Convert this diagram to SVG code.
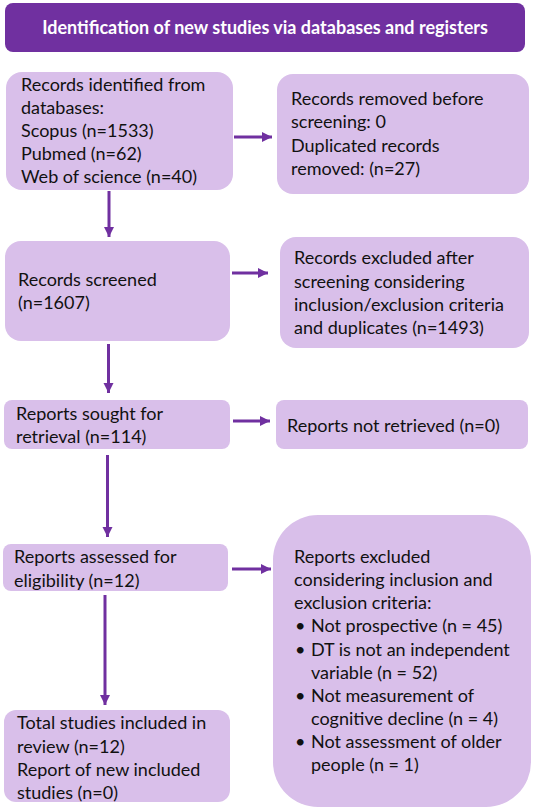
<svg xmlns="http://www.w3.org/2000/svg" width="536" height="810" viewBox="0 0 536 810">
<defs>
<style>
.box{fill:#D9BFEA;}
.hdr{fill:#7030A0;}
.t{font-family:Lato,"Liberation Sans",sans-serif;font-size:18px;fill:#111;}
.h{font-family:Lato,"Liberation Sans",sans-serif;font-size:18px;font-weight:bold;fill:#fff;}
.c{stroke:#7030A0;stroke-width:3;fill:none;marker-end:url(#ah);}
</style>
<marker id="ah" markerUnits="userSpaceOnUse" markerWidth="12" markerHeight="12" refX="10" refY="5" orient="auto">
<path d="M0,0 L10,5 L0,10 Z" fill="#7030A0"/>
</marker>
</defs>
<rect width="536" height="810" fill="#fff"/>
<g id="header">
<rect class="hdr" x="5" y="3" width="520" height="49" rx="8"/>
<text class="h" x="265" y="34" text-anchor="middle">Identification of new studies via databases and registers</text>
</g>
<g id="identified">
<rect class="box" x="6" y="72" width="227" height="118" rx="16"/>
<text class="t" x="21" y="91">Records identified from</text>
<text class="t" x="21" y="114">databases:</text>
<text class="t" x="21" y="137">Scopus (n=1533)</text>
<text class="t" x="21" y="160">Pubmed (n=62)</text>
<text class="t" x="21" y="183">Web of science (n=40)</text>
</g>
<g id="removed">
<rect class="box" x="277" y="74" width="252" height="120" rx="16"/>
<text class="t" x="291" y="105">Records removed before</text>
<text class="t" x="291" y="128">screening: 0</text>
<text class="t" x="291" y="152">Duplicated records</text>
<text class="t" x="291" y="175">removed: (n=27)</text>
</g>
<g id="screened">
<rect class="box" x="5" y="241" width="225" height="100" rx="16"/>
<text class="t" x="18" y="286">Records screened</text>
<text class="t" x="18" y="309">(n=1607)</text>
</g>
<g id="excluded1">
<rect class="box" x="280" y="237" width="249" height="111" rx="16"/>
<text class="t" x="294" y="264">Records excluded after</text>
<text class="t" x="294" y="288">screening considering</text>
<text class="t" x="294" y="311">inclusion/exclusion criteria</text>
<text class="t" x="294" y="334">and duplicates (n=1493)</text>
</g>
<g id="sought">
<rect class="box" x="4" y="400" width="226" height="49" rx="8"/>
<text class="t" x="16" y="420">Reports sought for</text>
<text class="t" x="16" y="443">retrieval (n=114)</text>
</g>
<g id="notretrieved">
<rect class="box" x="276" y="400" width="252" height="49" rx="8"/>
<text class="t" x="287" y="432">Reports not retrieved (n=0)</text>
</g>
<g id="assessed">
<rect class="box" x="3" y="544" width="225" height="47" rx="8"/>
<text class="t" x="14" y="563">Reports assessed for</text>
<text class="t" x="14" y="587">eligibility (n=12)</text>
</g>
<g id="excluded2">
<rect class="box" x="273" y="515" width="258" height="292" rx="45"/>
<text class="t" x="294" y="563">Reports excluded</text>
<text class="t" x="294" y="586">considering inclusion and</text>
<text class="t" x="294" y="609">exclusion criteria:</text>
<text class="t" x="295" y="632">•</text>
<text class="t" x="311" y="632">Not prospective (n = 45)</text>
<text class="t" x="295" y="656">•</text>
<text class="t" x="311" y="656">DT is not an independent</text>
<text class="t" x="311" y="679">variable (n = 52)</text>
<text class="t" x="295" y="702">•</text>
<text class="t" x="311" y="702">Not measurement of</text>
<text class="t" x="311" y="725">cognitive decline (n = 4)</text>
<text class="t" x="295" y="748">•</text>
<text class="t" x="311" y="748">Not assessment of older</text>
<text class="t" x="311" y="771">people (n = 1)</text>
</g>
<g id="included">
<rect class="box" x="4" y="710" width="226" height="92" rx="12"/>
<text class="t" x="17" y="729">Total studies included in</text>
<text class="t" x="17" y="753">review (n=12)</text>
<text class="t" x="17" y="776">Report of new included</text>
<text class="t" x="17" y="799">studies (n=0)</text>
</g>
<g id="connectors">
<line class="c" x1="234" y1="137" x2="272" y2="137"/>
<line class="c" x1="109" y1="191" x2="109" y2="237"/>
<line class="c" x1="232" y1="273" x2="268" y2="273"/>
<line class="c" x1="108.5" y1="344" x2="108.5" y2="393"/>
<line class="c" x1="233" y1="421" x2="270" y2="421"/>
<line class="c" x1="107.5" y1="455" x2="107.5" y2="537"/>
<line class="c" x1="232" y1="569" x2="271" y2="569"/>
<line class="c" x1="105" y1="595" x2="105" y2="705"/>
</g>
</svg>
